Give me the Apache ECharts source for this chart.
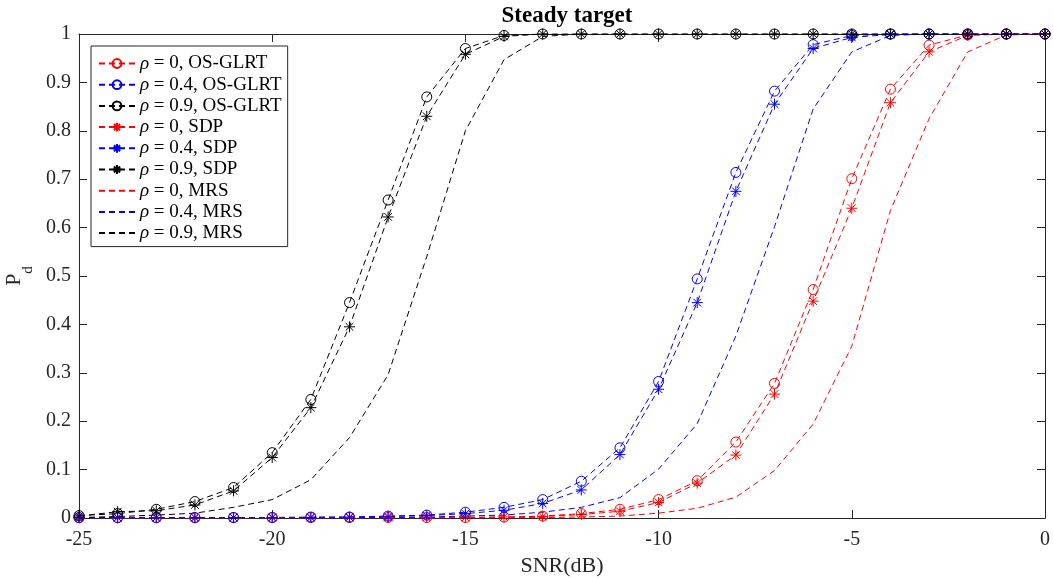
<!DOCTYPE html>
<html>
<head>
<meta charset="utf-8">
<script src="https://cdn.jsdelivr.net/npm/echarts@6/dist/echarts.min.js"></script>
<style>
html, body { margin: 0; padding: 0; background: #fff; }
#chart { width: 1053px; height: 579px; }
</style>
</head>
<body>
<div id="chart"></div>
<script>
var snr = [-25, -24, -23, -22, -21, -20, -19, -18, -17, -16, -15, -14, -13, -12, -11, -10, -9, -8, -7, -6, -5, -4, -3, -2, -1, 0];

var osGlrt0 = [0.0005, 0.0005, 0.0005, 0.0005, 0.001, 0.001, 0.001, 0.001, 0.001, 0.001, 0.001, 0.002, 0.004, 0.009, 0.018, 0.038, 0.077, 0.157, 0.278, 0.472, 0.701, 0.886, 0.977, 0.998, 1, 1];
var osGlrt4 = [0.001, 0.001, 0.001, 0.001, 0.001, 0.001, 0.002, 0.002, 0.004, 0.006, 0.012, 0.022, 0.038, 0.076, 0.145, 0.282, 0.494, 0.714, 0.882, 0.978, 0.997, 1, 1, 1, 1, 1];
var osGlrt9 = [0.005, 0.009, 0.018, 0.034, 0.063, 0.135, 0.245, 0.445, 0.657, 0.87, 0.97, 0.997, 1, 1, 1, 1, 1, 1, 1, 1, 1, 1, 1, 1, 1, 1];

var sdp0 = [0.0005, 0.0005, 0.0005, 0.0005, 0.001, 0.001, 0.001, 0.001, 0.001, 0.001, 0.001, 0.002, 0.003, 0.007, 0.014, 0.032, 0.072, 0.13, 0.256, 0.448, 0.64, 0.858, 0.963, 0.997, 1, 1];
var sdp4 = [0.001, 0.001, 0.001, 0.001, 0.001, 0.001, 0.001, 0.002, 0.003, 0.005, 0.009, 0.016, 0.03, 0.058, 0.131, 0.266, 0.445, 0.675, 0.855, 0.97, 0.993, 0.999, 1, 1, 1, 1];
var sdp9 = [0.004, 0.013, 0.015, 0.027, 0.056, 0.125, 0.228, 0.395, 0.622, 0.83, 0.958, 0.995, 1, 1, 1, 1, 1, 1, 1, 1, 1, 1, 1, 1, 1, 1];

var mrs0 = [0, 0, 0, 0, 0, 0, 0, 0, 0, 0, 0, 0.0005, 0.001, 0.002, 0.004, 0.01, 0.02, 0.043, 0.098, 0.194, 0.355, 0.635, 0.825, 0.963, 0.998, 1];
var mrs4 = [0.0005, 0.0005, 0.0005, 0.0005, 0.0005, 0.0005, 0.0005, 0.0005, 0.001, 0.002, 0.004, 0.006, 0.012, 0.022, 0.042, 0.101, 0.195, 0.376, 0.602, 0.845, 0.963, 0.997, 1, 1, 1, 1];
var mrs9 = [0.001, 0.003, 0.006, 0.01, 0.022, 0.038, 0.079, 0.166, 0.296, 0.54, 0.8, 0.947, 0.995, 1, 1, 1, 1, 1, 1, 1, 1, 1, 1, 1, 1, 1];

var seriesNames = [
    'ρ = 0, OS-GLRT', 'ρ = 0.4, OS-GLRT', 'ρ = 0.9, OS-GLRT',
    'ρ = 0, SDP', 'ρ = 0.4, SDP', 'ρ = 0.9, SDP',
    'ρ = 0, MRS', 'ρ = 0.4, MRS', 'ρ = 0.9, MRS'
];
var seriesValues = [osGlrt0, osGlrt4, osGlrt9, sdp0, sdp4, sdp9, mrs0, mrs4, mrs9];
var seriesColors = ['#ff0000', '#0000ff', '#000000', '#ff0000', '#0000ff', '#000000', '#ff0000', '#0000ff', '#000000'];

var xTicks = { min: -25, max: 0, step: 5 };
var yTicks = { min: 0, max: 1, step: 0.1 };

var FONT = 'Liberation Serif';
var AXIS_COLOR = '#262626';
var STAR = 'path://M0,5L10,5M5,0L5,10M1.5,1.5L8.5,8.5M8.5,1.5L1.5,8.5';
var CLEAR = 'rgba(0,0,0,0)';

function pairs(values) {
    return snr.map(function (x, i) { return [x, values[i]]; });
}

function makeSeries(i) {
    var kind = Math.floor(i / 3); // 0 circle, 1 star, 2 no marker
    var color = seriesColors[i];
    var s = {
        name: seriesNames[i],
        type: 'line',
        color: color,
        data: pairs(seriesValues[i]),
        lineStyle: { color: color, width: 1, type: [6, 4] },
        itemStyle: { color: CLEAR, borderColor: color, borderWidth: 1 },
        emphasis: { disabled: true },
        symbolKeepAspect: true
    };
    if (kind === 0) {
        s.symbol = 'circle';
        s.symbolSize = 10;
    } else if (kind === 1) {
        s.symbol = STAR;
        s.symbolSize = 11;
    } else {
        s.symbol = 'none';
        s.showSymbol = false;
    }
    return s;
}

// legend entries: MRS ones get a plain dashed line, no marker
function legendData() {
    return seriesNames.map(function (n, i) {
        if (i < 6) return { name: n };
        return { name: n, itemStyle: { color: CLEAR, borderColor: CLEAR, borderWidth: 0, opacity: 0 } };
    });
}

function baseAxis(t) {
    return {
        type: 'value',
        min: t.min,
        max: t.max,
        interval: t.step,
        axisLine: { show: true, onZero: false, lineStyle: { color: AXIS_COLOR, width: 1 } },
        axisTick: { show: true, inside: true, length: 8, lineStyle: { color: AXIS_COLOR } },
        splitLine: { show: false },
        axisLabel: { show: false }
    };
}

var xBottom = baseAxis(xTicks);
xBottom.position = 'bottom';
xBottom.axisLabel = { show: true, fontFamily: FONT, fontSize: 20, color: AXIS_COLOR, margin: 12 };
xBottom.name = 'SNR(dB)';
xBottom.nameLocation = 'middle';
xBottom.nameGap = 37;
xBottom.nameTextStyle = { fontFamily: FONT, fontSize: 22, color: AXIS_COLOR };

var xTop = baseAxis(xTicks);
xTop.position = 'top';

var yLeft = baseAxis(yTicks);
yLeft.position = 'left';
yLeft.axisLabel = { show: true, fontFamily: FONT, fontSize: 20, color: AXIS_COLOR, margin: 8 };
yLeft.name = '{p|P}{d|d}';
yLeft.nameLocation = 'middle';
yLeft.nameGap = 52;
yLeft.nameRotate = 90;
yLeft.nameTextStyle = {
    fontFamily: FONT, color: AXIS_COLOR,
    rich: {
        p: { fontFamily: FONT, fontSize: 22, color: AXIS_COLOR, lineHeight: 26, verticalAlign: 'bottom' },
        d: { fontFamily: FONT, fontSize: 15, color: AXIS_COLOR, lineHeight: 26, verticalAlign: 'bottom', padding: [0, 0, -10, 0] }
    }
};

var yRight = baseAxis(yTicks);
yRight.position = 'right';

var option = {
    animation: false,
    backgroundColor: '#fff',
    title: {
        text: 'Steady target',
        left: 562,
        textAlign: 'center',
        top: 0,
        textStyle: { fontFamily: FONT, fontSize: 23, fontWeight: 'bold', color: '#000' }
    },
    grid: { left: 79, right: 8, top: 34, bottom: 61, outerBoundsMode: 'none', containLabel: false },
    legend: {
        data: legendData(),
        orient: 'vertical',
        left: 91,
        top: 46,
        padding: [8, 6, 4, 7],
        itemWidth: 36,
        itemHeight: 11,
        itemGap: 2.2,
        selectedMode: false,
        backgroundColor: '#fff',
        borderColor: AXIS_COLOR,
        borderWidth: 1,
        borderRadius: 0,
        formatter: function (name) {
            return '{i|ρ}' + name.slice(1);
        },
        textStyle: {
            fontFamily: FONT, fontSize: 19, color: '#000',
            rich: { i: { fontFamily: FONT, fontSize: 19, fontStyle: 'italic', color: '#000' } }
        }
    },
    xAxis: [xBottom, xTop],
    yAxis: [yLeft, yRight],
    series: seriesNames.map(function (n, i) { return makeSeries(i); })
};

var chart = echarts.init(document.getElementById('chart'));
chart.setOption(option);
</script>
</body>
</html>
